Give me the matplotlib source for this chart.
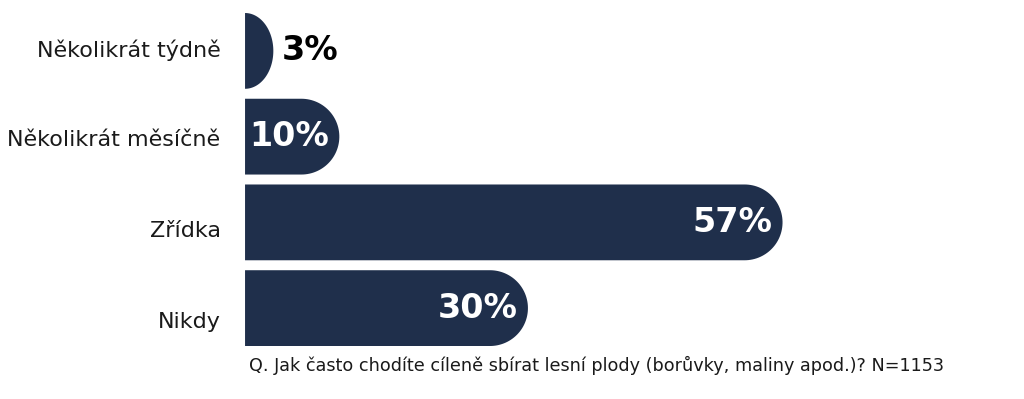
import numpy as np
import matplotlib
matplotlib.use('Agg')
import matplotlib.pyplot as plt
from matplotlib.path import Path
from matplotlib.patches import PathPatch

categories = ['Několikrát týdně', 'Několikrát měsíčně', 'Zřídka', 'Nikdy']
values = [3, 10, 57, 30]
labels = ['3%', '10%', '57%', '30%']
note = 'Q. Jak často chodíte cíleně sbírat lesní plody (borůvky, maliny apod.)? N=1153'

NAVY = '#1f2f4b'
BAR_H = 0.884
# category labels in the original drift slightly below their bars
LABEL_SHIFT = [-0.01, 0.04, 0.10, 0.16]

plt.rcParams['font.family'] = ['DejaVu Sans']

fig = plt.figure(figsize=(10.24, 3.99), dpi=100, facecolor='white')
ax = fig.add_axes([0.2393, 0.1328, 0.7367, 0.8346])
ax.set_xlim(0, 80)
ax.set_ylim(3 + 0.442, -0.442)
ax.axis('off')

# radius of the rounded end in data units (x matched to pixel scale)
rx_full = 38 / 9.43
hh = BAR_H / 2


def rounded_bar(y, v):
    rx = min(rx_full, v)
    t = np.linspace(-np.pi / 2, np.pi / 2, 60)
    arc_x = (v - rx) + rx * np.cos(t)
    arc_y = y + hh * np.sin(t)
    xs = np.concatenate([[0], arc_x, [0, 0]])
    ys = np.concatenate([[y - hh], arc_y, [y + hh, y - hh]])
    verts = np.column_stack([xs, ys])
    codes = [Path.MOVETO] + [Path.LINETO] * (len(verts) - 2) + [Path.CLOSEPOLY]
    return PathPatch(Path(verts, codes), facecolor=NAVY, edgecolor='none')


for i, (cat, v, lab) in enumerate(zip(categories, values, labels)):
    ax.add_patch(rounded_bar(i, v))
    ax.text(-2.6, i + LABEL_SHIFT[i], cat, ha='right', va='center',
            fontsize=16, color='#1a1a1a')
    if v < 8:
        ax.text(v + 0.9, i, lab, ha='left', va='center', fontsize=24,
                fontweight='bold', color='black')
    else:
        ax.text(v - 1.1, i, lab, ha='right', va='center', fontsize=24,
                fontweight='bold', color='white')

fig.text(249 / 1024, 1 - 365 / 399, note, ha='left', va='center',
         fontsize=12.7, color='#1a1a1a')

fig.savefig('out.png', dpi=100, facecolor='white')
